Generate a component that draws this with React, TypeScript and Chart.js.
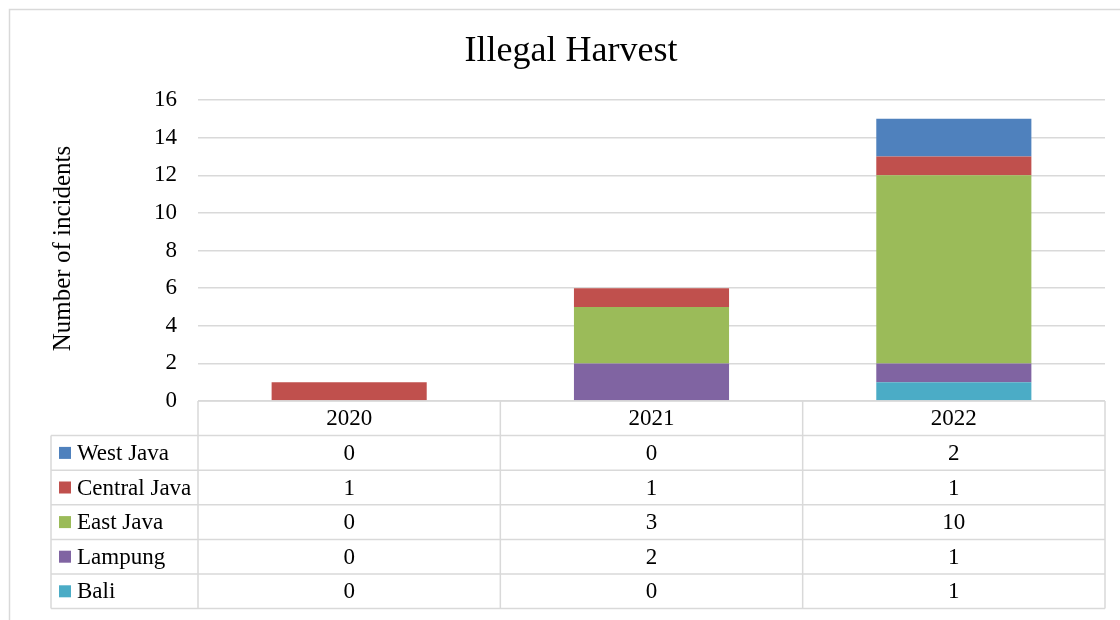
import React, { useEffect, useRef } from 'react';
import { Chart, registerables } from 'chart.js';

Chart.register(...registerables);

const chartTitle = 'Illegal Harvest';
const yAxisTitle = 'Number of incidents';
const categories = ['2020', '2021', '2022'];
const westJava = [0, 0, 2];
const centralJava = [1, 1, 1];
const eastJava = [0, 3, 10];
const lampung = [0, 2, 1];
const bali = [0, 0, 1];
const yTickValues = [0, 2, 4, 6, 8, 10, 12, 14, 16];

const FONT = '"Liberation Serif", "DejaVu Serif", serif';
const GRID = '#d9d9d9';

// dataset order = stacking order (bottom first)
const seriesList = [
  { name: 'Bali', data: bali, color: '#4BACC6' },
  { name: 'Lampung', data: lampung, color: '#8064A2' },
  { name: 'East Java', data: eastJava, color: '#9BBB59' },
  { name: 'Central Java', data: centralJava, color: '#C0504D' },
  { name: 'West Java', data: westJava, color: '#4F81BD' },
];

const tablePlugin = {
  id: 'excelDecor',
  beforeDraw(chart: any) {
    const ctx = chart.ctx;
    ctx.save();
    ctx.fillStyle = '#ffffff';
    ctx.fillRect(0, 0, chart.width, chart.height);
    ctx.strokeStyle = GRID;
    ctx.lineWidth = 1.5;
    ctx.strokeRect(9.5, 9.5, chart.width + 20, chart.height + 20);
    ctx.restore();
  },
  afterDraw(chart: any) {
    const ctx = chart.ctx;
    const area = chart.chartArea;
    const xs = chart.scales.x;
    ctx.save();
    // title
    ctx.fillStyle = '#000000';
    ctx.font = `36px ${FONT}`;
    ctx.textAlign = 'center';
    ctx.textBaseline = 'alphabetic';
    ctx.fillText(chartTitle, 571, 61);

    // y-axis title
    ctx.save();
    ctx.translate(70, (area.top + area.bottom) / 2 - 2);
    ctx.rotate(-Math.PI / 2);
    ctx.font = `25px ${FONT}`;
    ctx.textAlign = 'center';
    ctx.textBaseline = 'alphabetic';
    ctx.fillText(yAxisTitle, 0, 0);
    ctx.restore();

    // data table
    const n = categories.length;
    const edges: number[] = [area.left];
    for (let i = 0; i < n - 1; i++) {
      edges.push((xs.getPixelForValue(i) + xs.getPixelForValue(i + 1)) / 2);
    }
    edges.push(area.right);
    const top = area.bottom;
    const rowH = 34.6;
    const tableLeft = 51;
    const rows = seriesList.slice().reverse();
    const bottom = top + rowH * (rows.length + 1);

    ctx.strokeStyle = GRID;
    ctx.lineWidth = 1.5;
    ctx.beginPath();
    // header top line
    ctx.moveTo(area.left, top);
    ctx.lineTo(area.right, top);
    for (let r = 1; r <= rows.length + 1; r++) {
      const y = top + rowH * r;
      ctx.moveTo(tableLeft, y);
      ctx.lineTo(area.right, y);
    }
    // vertical lines
    ctx.moveTo(tableLeft, top + rowH);
    ctx.lineTo(tableLeft, bottom);
    edges.forEach((x) => {
      ctx.moveTo(x, top);
      ctx.lineTo(x, bottom);
    });
    ctx.stroke();

    ctx.fillStyle = '#000000';
    ctx.font = `23px ${FONT}`;
    ctx.textBaseline = 'middle';
    ctx.textAlign = 'center';
    categories.forEach((c, i) => {
      ctx.fillText(c, xs.getPixelForValue(i), top + rowH / 2 + 1);
    });
    rows.forEach((s, r) => {
      const cy = top + rowH * (r + 1.5);
      ctx.fillStyle = s.color;
      ctx.fillRect(59, cy - 6, 12, 12);
      ctx.fillStyle = '#000000';
      ctx.textAlign = 'left';
      ctx.fillText(s.name, 77, cy + 1);
      ctx.textAlign = 'center';
      s.data.forEach((v, i) => {
        ctx.fillText(String(v), xs.getPixelForValue(i), cy + 1);
      });
    });
    ctx.restore();
  },
};

export default function App() {
  const ref = useRef<HTMLCanvasElement | null>(null);
  useEffect(() => {
    if (!ref.current) return;
    const chart = new Chart(ref.current, {
      type: 'bar',
      data: {
        labels: categories,
        datasets: seriesList.map((s) => ({
          label: s.name,
          data: s.data,
          backgroundColor: s.color,
          borderWidth: 0,
          barPercentage: 0.513,
          categoryPercentage: 1,
        })),
      },
      options: {
        responsive: false,
        animation: false,
        devicePixelRatio: 1,
        layout: { padding: { top: 100, right: 15, bottom: 219, left: 0 } },
        plugins: {
          legend: { display: false },
          title: { display: false },
          tooltip: { enabled: false },
        },
        scales: {
          x: {
            stacked: true,
            display: false,
          },
          y: {
            stacked: true,
            min: 0,
            max: 16,
            afterFit(scale: any) {
              scale.width = 198;
            },
            afterBuildTicks(scale: any) {
              scale.ticks = yTickValues.map((v) => ({ value: v }));
            },
            border: { display: false },
            grid: { color: GRID, lineWidth: 1.5, drawTicks: false },
            ticks: {
              padding: 21,
              color: '#000000',
              font: { family: FONT, size: 23 },
            },
          },
        },
      },
      plugins: [tablePlugin],
    });
    return () => chart.destroy();
  }, []);
  return (
    <div style={{ position: 'fixed', left: 0, top: 0, width: 1120, height: 620, background: '#fff' }}>
      <canvas ref={ref} width={1120} height={620} style={{ width: 1120, height: 620, display: 'block' }} />
    </div>
  );
}
